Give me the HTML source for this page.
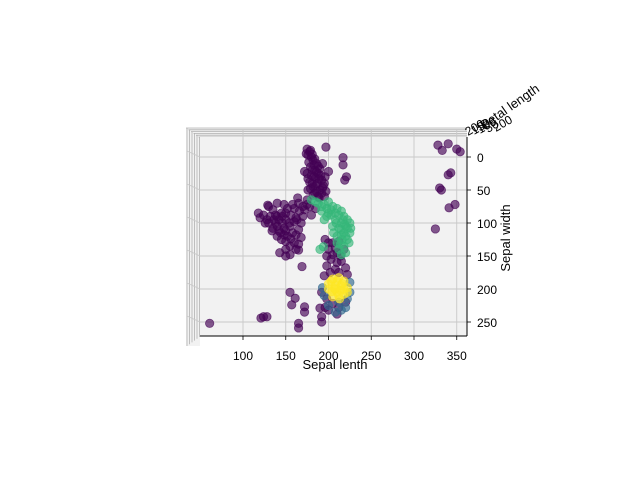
<!DOCTYPE html>
<html><head><meta charset="utf-8"><style>
html,body{margin:0;padding:0;background:#fff;}
svg{display:block;font-family:"Liberation Sans","DejaVu Sans",sans-serif;}
</style></head><body>
<svg id="chart" width="640" height="480" viewBox="0 0 640 480" xmlns="http://www.w3.org/2000/svg">
<rect width="640" height="480" fill="#fff"/>
<g id="pane"></g>
<g id="grid"></g>
<g id="marks"></g>
<g id="axes"></g>
<text x="335" y="369" font-size="13" text-anchor="middle">Sepal lenth</text>
<text transform="translate(510,238) rotate(-90)" font-size="13" text-anchor="middle">Sepal width</text>
<text transform="translate(484,130) rotate(-35)" font-size="13">Petal length</text>
<g font-size="12">
<text transform="translate(468,136) rotate(-30)">200</text>
<text transform="translate(474,135) rotate(-30)">150</text>
<text transform="translate(480,134) rotate(-30)">100</text>
<text transform="translate(488,133) rotate(-30)">50</text>
<text transform="translate(496,132) rotate(-30)">200</text>
</g>
</svg>
<script>
const xTicks=[100,150,200,250,300,350];
const yTicks=[0,50,100,150,200,250];
const purpleX=[175,178,176,182,186,179,184,190,188,180,185,192,178,187,194,182,190,184,197,176,195,189,172,196,200,193,197,217,217,219,221,
174,180,184,177,183,188,181,186,191,183,176,189,181,185,193,179,186,192,182,188,195,175,179,181,
118,124,130,128,135,140,145,138,150,148,142,155,160,158,152,165,135,145,160,168,150,162,172,165,158,148,140,170,178,185,180,175,143,150,155,169,129,163,165,164,
120,126,132,136,142,146,140,144,150,154,150,156,162,166,170,175,160,152,146,134,140,150,156,162,165,155,148,138,130,168,
196,205,212,200,210,218,203,215,198,208,220,195,222,200,208,214,205,198,210,202,212,
192,198,205,212,220,200,210,196,
61,124,128,121,155,161,157,172,172,165,165,192,192,190,
328,333,340,350,354,340,343,330,332,341,348,325];
const purpleY=[-12,-8,-3,5,10,15,20,18,25,28,32,35,38,40,44,45,50,55,52,50,60,62,22,30,22,10,-15,1,12,35,30,
-5,0,3,8,12,14,20,23,28,30,33,33,40,44,47,48,52,55,58,60,40,25,-10,-4,
85,88,75,95,80,90,85,100,95,108,112,105,98,115,120,110,108,125,130,122,140,140,80,70,72,72,70,90,75,78,88,65,145,150,148,166,73,95,141,62,
92,100,90,95,95,100,105,115,112,100,85,88,92,82,75,72,78,78,90,112,120,128,124,118,132,135,118,88,100,100,
125,130,128,140,145,140,155,158,165,170,168,180,178,130,138,150,148,150,160,175,175,
205,215,222,228,220,232,238,228,
252,242,242,244,205,214,224,227,235,259,252,242,250,229,
-18,-10,-20,-12,-8,27,24,47,50,77,72,109];
const greenX=[180,188,195,200,205,210,215,218,222,225,220,215,225,222,218,212,215,208,200,195,205,210,216,226,192,203,190,215,194,
185,192,198,203,208,212,217,219,222,218,220,215,212,209,224,220,214,210,206,198];
const greenY=[65,70,72,68,75,78,82,90,95,100,105,110,115,125,135,140,100,95,85,95,105,120,125,108,82,80,140,148,136,
68,75,78,88,85,88,95,102,108,115,120,118,108,100,130,145,132,130,115,90];
const blueX=[195,225,222,200,215,225,193,208,220,212];
const blueY=[210,205,215,225,232,190,198,235,228,220];
const yellowX=[205,212,218,208,215,222,200,210,218,205,213,200,214,207,203,210,216,204,212,218,222,208];
const yellowY=[185,183,188,195,195,198,200,205,208,212,215,192,202,200,188,188,192,204,210,200,205,200];

const NS='http://www.w3.org/2000/svg';
function sx(v){return 157.5+v*0.855;}
function sy(v){return 157+v*0.66;}
function mk(tag,attrs,parent){const e=document.createElementNS(NS,tag);for(const k in attrs)e.setAttribute(k,attrs[k]);parent.appendChild(e);return e;}
const pane=document.getElementById('pane'),grid=document.getElementById('grid'),marks=document.getElementById('marks'),axes=document.getElementById('axes');
const L=200,R=467,T=137,B=336;
mk('polygon',{points:`186,128 ${R},128 ${R},${B} 200,${B} 200,346 186,346`,fill:'#f2f2f2'},pane);
for(let i=0;i<6;i++){
  const l=mk('line',{x1:186+i*2.5,y1:128+i*1.8,x2:R,y2:128+i*1.8,stroke:'#b0b0b0','stroke-width':0.8},pane);
  
  
  const v=mk('line',{x1:187+i*2.5,y1:128+i*1.8,x2:187+i*2.5,y2:346-i*1.8,stroke:'#b0b0b0','stroke-width':0.8},pane);
  
  
}
mk('rect',{x:L,y:T,width:R-L,height:B-T,fill:'#f2f2f2'},pane);
xTicks.forEach(t=>{
  const g=mk('line',{x1:sx(t),y1:129,x2:sx(t),y2:B,stroke:'#c8c8c8','stroke-width':0.9},grid);
  
  
  mk('line',{x1:sx(t),y1:B,x2:sx(t),y2:B+4,stroke:'#000','stroke-width':0.8},axes);
  const tx=mk('text',{x:sx(t),y:B+24,'font-size':12,'text-anchor':'middle'},axes);
  tx.textContent=t;
  
  
});
yTicks.forEach(t=>{
  const s=mk('line',{x1:187,y1:sy(t)-6,x2:L,y2:sy(t),stroke:'#c8c8c8','stroke-width':0.9},grid);
  
  
  const g=mk('line',{x1:L,y1:sy(t),x2:R,y2:sy(t),stroke:'#c8c8c8','stroke-width':0.9},grid);
  
  
  mk('line',{x1:R,y1:sy(t),x2:R+4,y2:sy(t),stroke:'#000','stroke-width':0.8},axes);
  const tx=mk('text',{x:R+10,y:sy(t)+5,'font-size':12},axes);
  tx.textContent=t;
  
  
});
mk('line',{x1:L,y1:B,x2:R,y2:B,stroke:'#000','stroke-width':1},axes);
mk('line',{x1:R,y1:T,x2:R,y2:B,stroke:'#000','stroke-width':1},axes);
function series(xs,ys,color,name){
  xs.forEach((x,i)=>{
    const c=mk('circle',{cx:sx(x),cy:sy(ys[i]),r:4.2,fill:color,'fill-opacity':0.65,stroke:color,'stroke-opacity':0.65,'stroke-width':0.8},marks);
    
    
  });
}
series(purpleX,purpleY,'#440154','point-class-0');
series(blueX,blueY,'#31688e','point-class-1');
series(greenX,greenY,'#35b779','point-class-2');
series(yellowX,yellowY,'#fde725','point-class-3');
</script>
</body></html>
